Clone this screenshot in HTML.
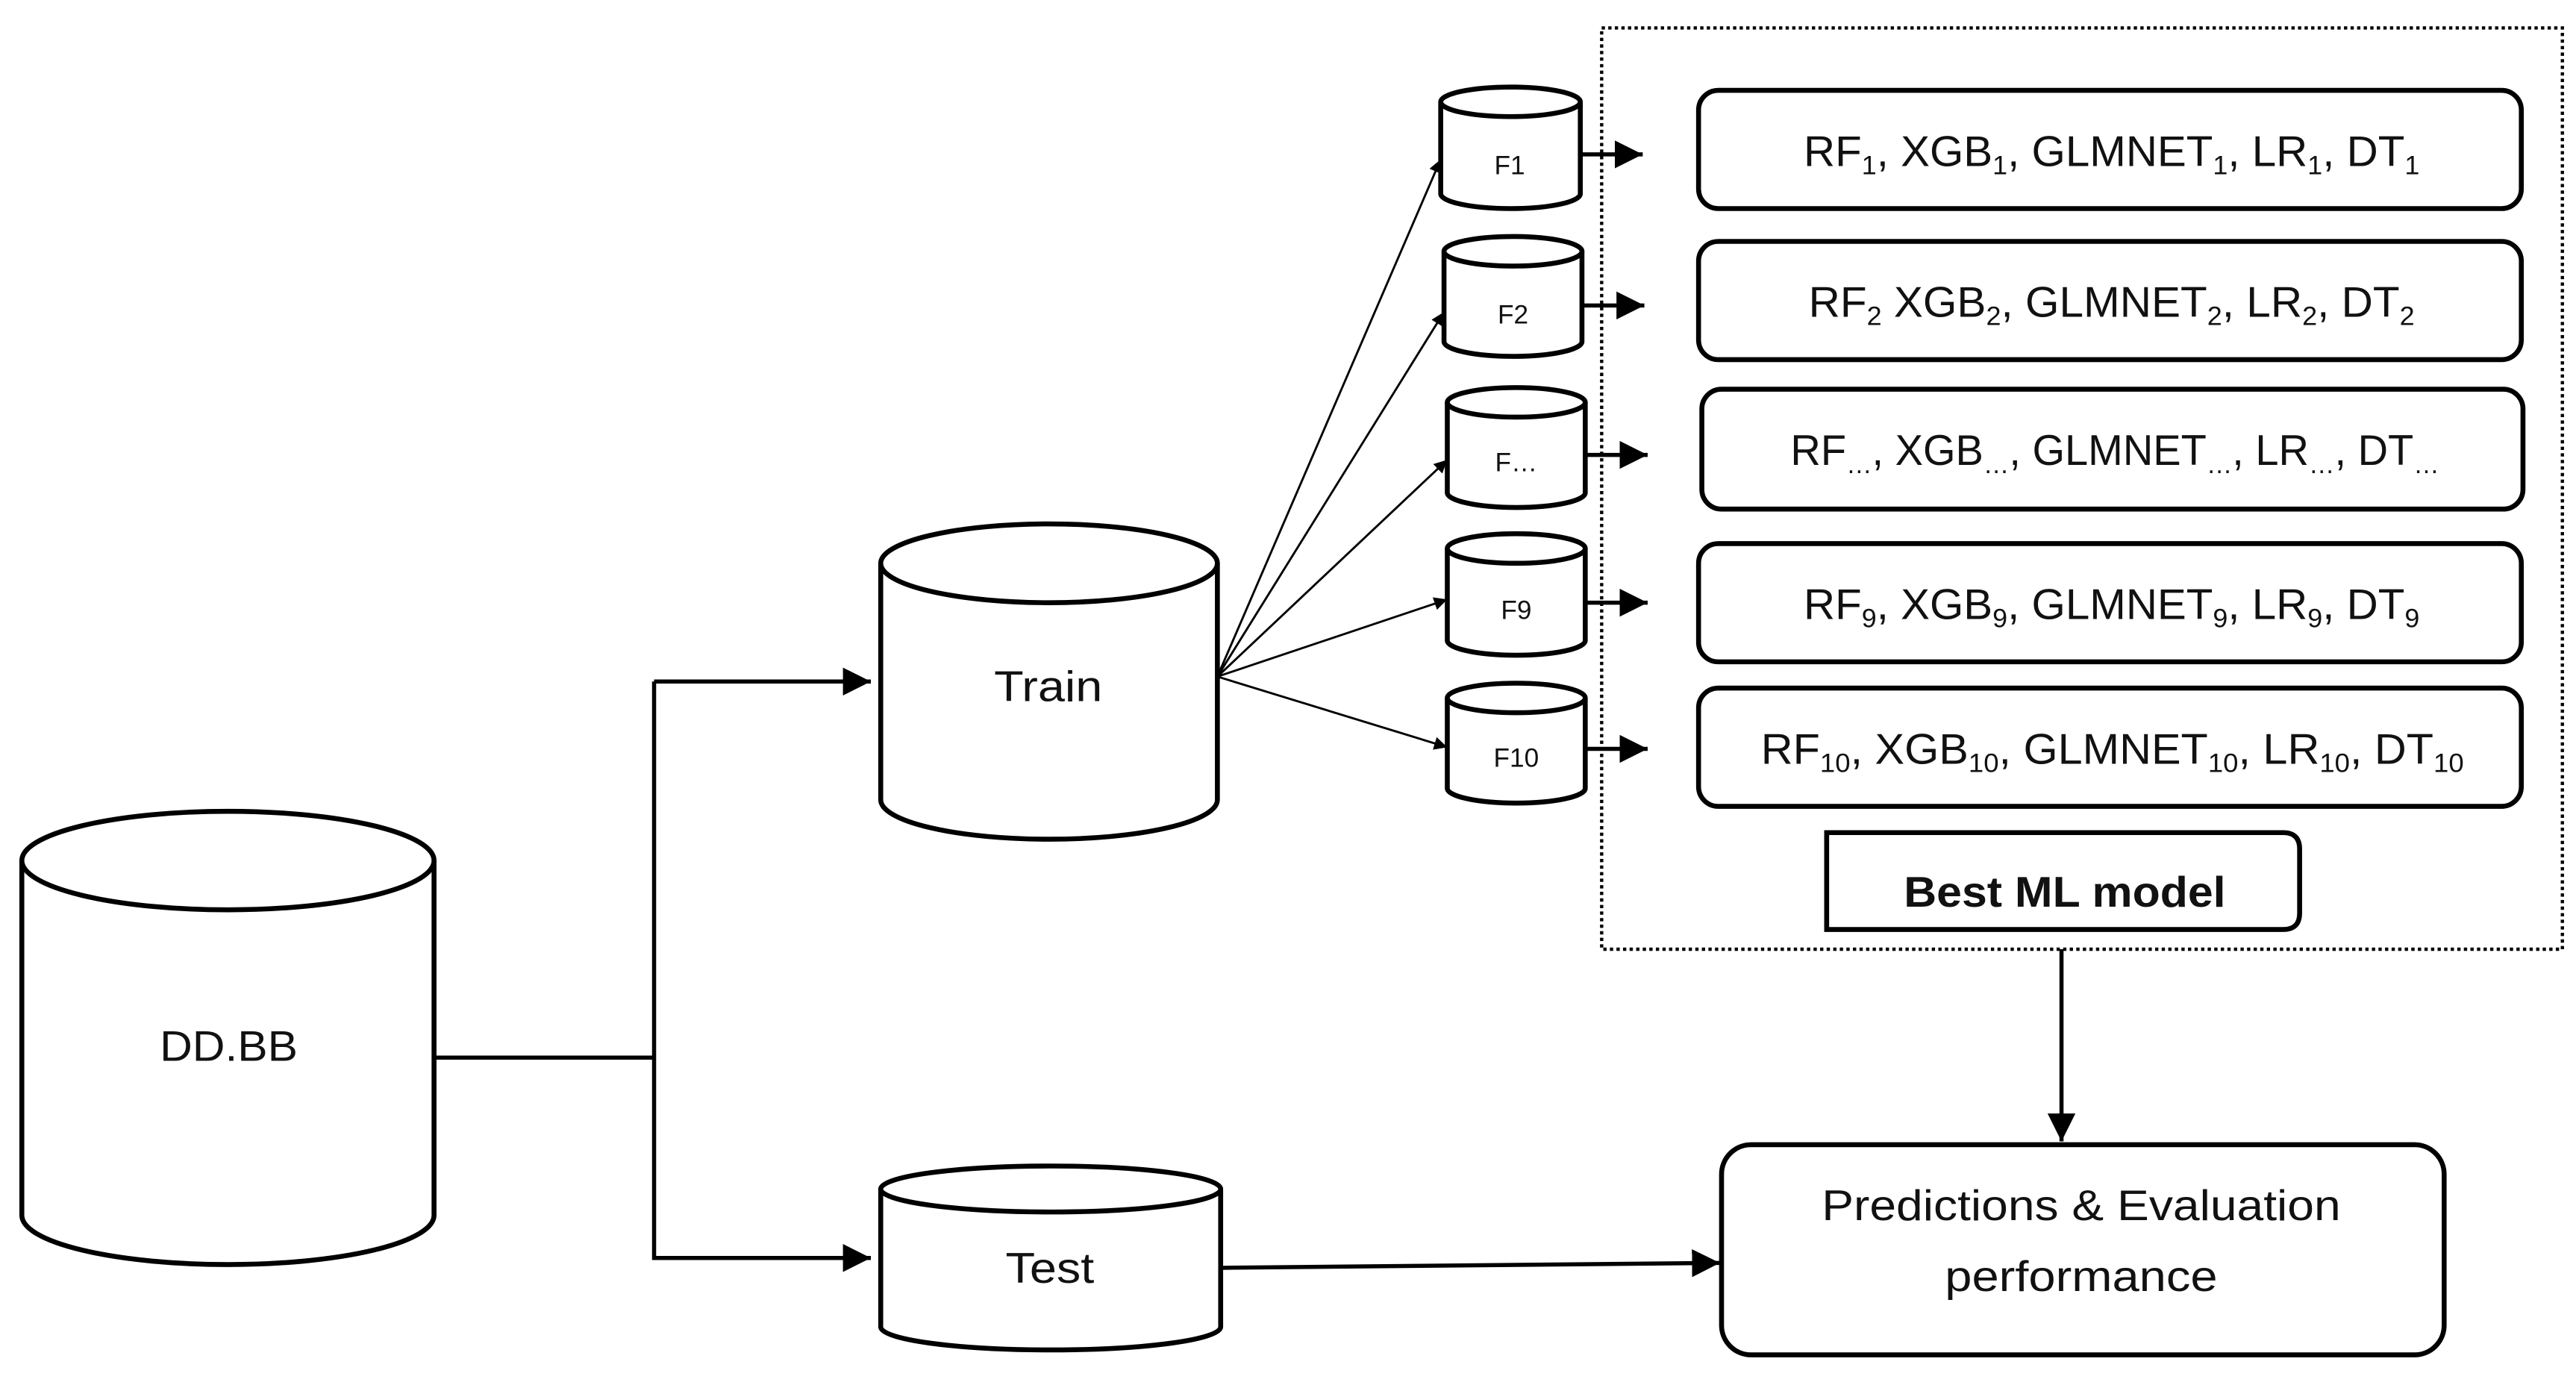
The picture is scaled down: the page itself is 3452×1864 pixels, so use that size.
<!DOCTYPE html>
<html><head><meta charset="utf-8"><style>
html,body{margin:0;padding:0;background:#fff}
svg{display:block}
text{font-family:"Liberation Sans",sans-serif;fill:#111}
.s{font-size:16px}
</style></head><body>
<svg width="3452" height="1864" viewBox="0 0 1568 847" xmlns="http://www.w3.org/2000/svg">
<defs>
<marker id="a" viewBox="0 0 10 10" refX="10" refY="5" markerWidth="8" markerHeight="8" markerUnits="userSpaceOnUse" orient="auto"><path d="M0,0L10,5L0,10z" fill="#000"/></marker>
<marker id="b" viewBox="0 0 10 10" refX="10" refY="5" markerWidth="17" markerHeight="17" markerUnits="userSpaceOnUse" orient="auto"><path d="M0,0L10,5L0,10z" fill="#000"/></marker>
</defs>
<g fill="#fff" stroke="#000" stroke-width="3">
<path d="M13,524 L13,740 A125.5,30 0 0 0 264,740 L264,524"/>
<ellipse cx="138.5" cy="524" rx="125.5" ry="30"/>
<path d="M536,343 L536,487 A102.5,24 0 0 0 741,487 L741,343"/>
<ellipse cx="638.5" cy="343" rx="102.5" ry="24"/>
<path d="M536,724 L536,808 A103.5,14 0 0 0 743,808 L743,724"/>
<ellipse cx="639.5" cy="724" rx="103.5" ry="14"/>
<path d="M877,62 L877,118 A42.5,9 0 0 0 962,118 L962,62"/><ellipse cx="919.5" cy="62" rx="42.5" ry="9"/>
<path d="M879,153 L879,208 A42,9 0 0 0 963,208 L963,153"/><ellipse cx="921" cy="153" rx="42" ry="9"/>
<path d="M881,245 L881,300 A42,9 0 0 0 965,300 L965,245"/><ellipse cx="923" cy="245" rx="42" ry="9"/>
<path d="M881,334 L881,390 A42,9 0 0 0 965,390 L965,334"/><ellipse cx="923" cy="334" rx="42" ry="9"/>
<path d="M881,425 L881,480 A42,9 0 0 0 965,480 L965,425"/><ellipse cx="923" cy="425" rx="42" ry="9"/>
<rect x="1034" y="55" width="501" height="72" rx="12"/>
<rect x="1034" y="147" width="501" height="72" rx="12"/>
<rect x="1036" y="237" width="500" height="73" rx="12"/>
<rect x="1034" y="331" width="501" height="72" rx="12"/>
<rect x="1034" y="419" width="501" height="72" rx="12"/>
<path d="M1112,507 L1390,507 Q1400,507 1400,517 L1400,556 Q1400,566 1390,566 L1112,566 Z"/>
<rect x="1048" y="697" width="440" height="128" rx="18"/>
</g>
<rect x="975" y="17" width="585" height="561" fill="none" stroke="#000" stroke-width="2" stroke-dasharray="2,2"/>
<g fill="none" stroke="#000" stroke-width="2.5">
<polyline points="264,644 398,644"/>
<polyline points="398,415 398,766 530,766" marker-end="url(#b)"/>
<path d="M398,415 L530,415" marker-end="url(#b)"/>
<path d="M743,772 L1047,769" marker-end="url(#b)"/>
<path d="M1255,578 L1255,695" marker-end="url(#b)"/>
<path d="M962,94 L1000,94" marker-end="url(#b)"/>
<path d="M963,186 L1001,186" marker-end="url(#b)"/>
<path d="M965,277 L1003,277" marker-end="url(#b)"/>
<path d="M965,367 L1003,367" marker-end="url(#b)"/>
<path d="M965,456 L1003,456" marker-end="url(#b)"/>
</g>
<g fill="none" stroke="#000" stroke-width="1.3">
<path d="M741,412 L877,97" marker-end="url(#a)"/>
<path d="M741,412 L879,190" marker-end="url(#a)"/>
<path d="M741,412 L881,280" marker-end="url(#a)"/>
<path d="M741,412 L881,365" marker-end="url(#a)"/>
<path d="M741,412 L881,455" marker-end="url(#a)"/>
</g>
<g text-anchor="middle" font-size="26">
<text x="139" y="646" textLength="84" lengthAdjust="spacingAndGlyphs">DD.BB</text>
<text x="638" y="427" textLength="66" lengthAdjust="spacingAndGlyphs">Train</text>
<text x="639" y="781" textLength="54" lengthAdjust="spacingAndGlyphs">Test</text>
<text x="1267" y="743" textLength="316" lengthAdjust="spacingAndGlyphs">Predictions &amp; Evaluation</text>
<text x="1267" y="786" textLength="166" lengthAdjust="spacingAndGlyphs">performance</text>
<text x="1257" y="552" font-weight="bold" textLength="196" lengthAdjust="spacingAndGlyphs">Best ML model</text>
</g>
<g text-anchor="middle" class="s">
<text x="919" y="106">F1</text>
<text x="921" y="197">F2</text>
<text x="923" y="287">F…</text>
<text x="923" y="377">F9</text>
<text x="923" y="467">F10</text>
</g>
<g font-size="26">
<text x="1098" y="101" textLength="375" lengthAdjust="spacingAndGlyphs">RF<tspan font-size="16" dy="5">1</tspan><tspan dy="-5">, XGB</tspan><tspan font-size="16" dy="5">1</tspan><tspan dy="-5">, GLMNET</tspan><tspan font-size="16" dy="5">1</tspan><tspan dy="-5">, LR</tspan><tspan font-size="16" dy="5">1</tspan><tspan dy="-5">, DT</tspan><tspan font-size="16" dy="5">1</tspan></text>
<text x="1101" y="193" textLength="369" lengthAdjust="spacingAndGlyphs">RF<tspan font-size="16" dy="5">2</tspan><tspan dy="-5"> XGB</tspan><tspan font-size="16" dy="5">2</tspan><tspan dy="-5">, GLMNET</tspan><tspan font-size="16" dy="5">2</tspan><tspan dy="-5">, LR</tspan><tspan font-size="16" dy="5">2</tspan><tspan dy="-5">, DT</tspan><tspan font-size="16" dy="5">2</tspan></text>
<text x="1090" y="283" textLength="395" lengthAdjust="spacingAndGlyphs">RF<tspan font-size="16" dy="5">…</tspan><tspan dy="-5">, XGB</tspan><tspan font-size="16" dy="5">…</tspan><tspan dy="-5">, GLMNET</tspan><tspan font-size="16" dy="5">…</tspan><tspan dy="-5">, LR</tspan><tspan font-size="16" dy="5">…</tspan><tspan dy="-5">, DT</tspan><tspan font-size="16" dy="5">…</tspan></text>
<text x="1098" y="377" textLength="375" lengthAdjust="spacingAndGlyphs">RF<tspan font-size="16" dy="5">9</tspan><tspan dy="-5">, XGB</tspan><tspan font-size="16" dy="5">9</tspan><tspan dy="-5">, GLMNET</tspan><tspan font-size="16" dy="5">9</tspan><tspan dy="-5">, LR</tspan><tspan font-size="16" dy="5">9</tspan><tspan dy="-5">, DT</tspan><tspan font-size="16" dy="5">9</tspan></text>
<text x="1072" y="465" textLength="428" lengthAdjust="spacingAndGlyphs">RF<tspan font-size="16" dy="5">10</tspan><tspan dy="-5">, XGB</tspan><tspan font-size="16" dy="5">10</tspan><tspan dy="-5">, GLMNET</tspan><tspan font-size="16" dy="5">10</tspan><tspan dy="-5">, LR</tspan><tspan font-size="16" dy="5">10</tspan><tspan dy="-5">, DT</tspan><tspan font-size="16" dy="5">10</tspan></text>
</g>
</svg>
</body></html>
